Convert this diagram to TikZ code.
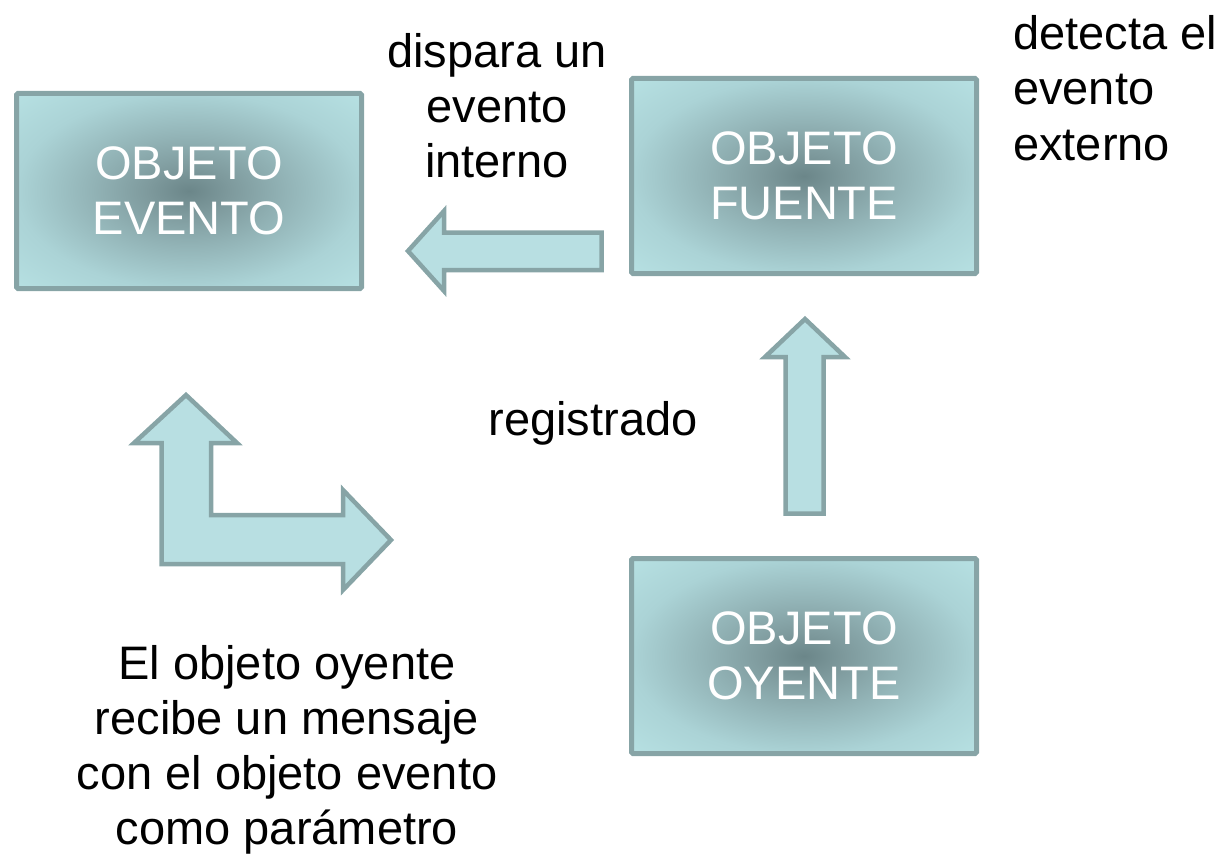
\documentclass[tikz,border=0pt]{standalone}
\usepackage{fontspec}
\setmainfont{Liberation Sans}
\definecolor{edgecol}{HTML}{87A4A6}
\definecolor{afill}{HTML}{B8DFE2}
\definecolor{scA}{HTML}{6B8689}
\definecolor{scB}{HTML}{7E9A9D}
\definecolor{scC}{HTML}{92B3B6}
\definecolor{scD}{HTML}{ABD3D6}
\definecolor{scE}{HTML}{B6E0E2}
\pgfdeclareradialshading{boxshade}{\pgfpoint{0bp}{0bp}}{color(0bp)=(scA); color(6bp)=(scB); color(14bp)=(scC); color(25bp)=(scD); color(35bp)=(scE); color(50bp)=(scE)}
\tikzset{
  objbox/.style={draw=edgecol, line width=5pt, rounded corners=1.5pt, shade, shading=boxshade,
    minimum width=345pt, minimum height=195pt, text=white,
    font=\fontsize{47}{55}\selectfont, align=center, inner sep=0pt},
  blockarrow/.style={draw=edgecol, fill=afill, line width=4.5pt, line join=miter},
  lbl/.style={font=\fontsize{47}{55}\selectfont, inner sep=0pt, align=center, text=black}
}
\begin{document}
\begin{tikzpicture}[x=1pt,y=-1pt]
\useasboundingbox (0,0) rectangle (1225,856);
\node[objbox] (evento) at (189,191) {OBJETO\\EVENTO};
\node[objbox] (fuente) at (804,176) {OBJETO\\FUENTE};
\node[objbox] (oyente) at (804,656) {OBJETO\\OYENTE};
% left arrow
\draw[blockarrow] (408,251) -- (444,211) -- (444,232.5) -- (601.5,232.5) -- (601.5,270) -- (444,270) -- (444,291) -- cycle;
% up arrow
\draw[blockarrow] (805,319) -- (845,357) -- (823.5,357) -- (823.5,513.5) -- (785.5,513.5) -- (785.5,357) -- (765,357) -- cycle;
% bent arrow
\draw[blockarrow] (186,395) -- (237,443) -- (211,443) -- (211,515) -- (343,515) -- (343,490) -- (391,540) -- (343,590) -- (343,564) -- (161.5,564) -- (161.5,443) -- (134,443) -- cycle;
\node[lbl, anchor=base] (dispara) at (497,177) {dispara un\\evento\\interno};
\node[lbl, anchor=base west, align=left] (detecta) at (1013,160) {detecta el\\evento\\externo};
\node[lbl, anchor=base] (registrado) at (593,435) {registrado};
\node[lbl, anchor=base] (recibe) at (287,844) {El objeto oyente\\recibe un mensaje\\con el objeto evento\\como parámetro};
\end{tikzpicture}
\end{document}
